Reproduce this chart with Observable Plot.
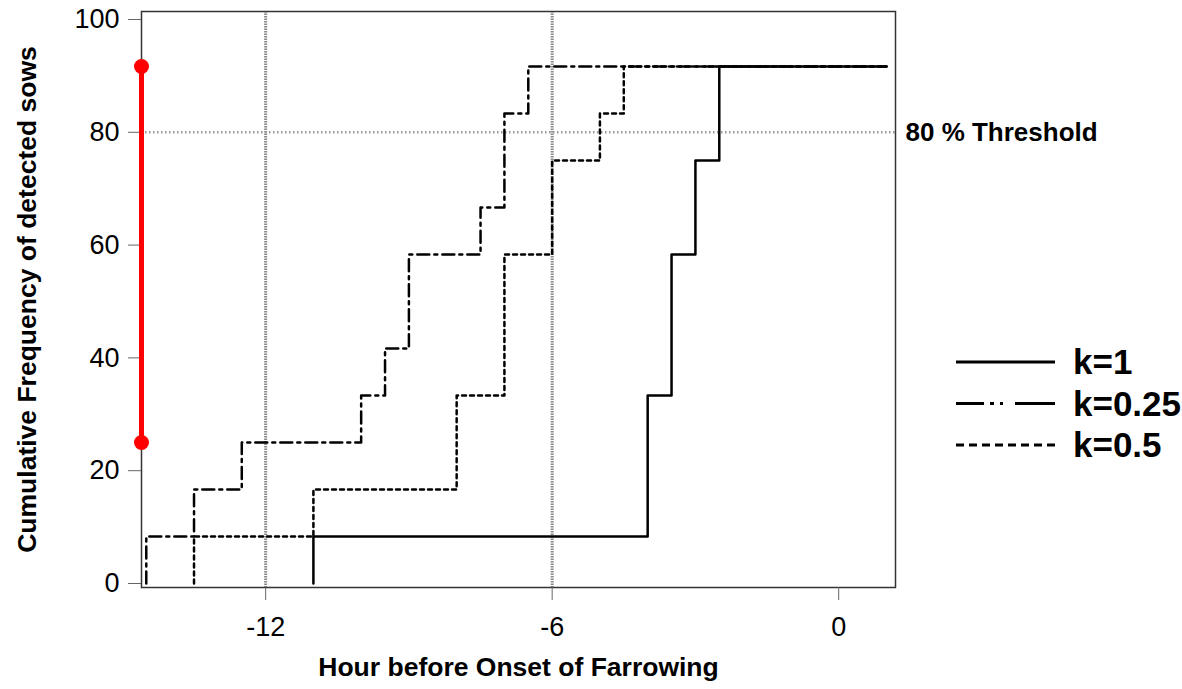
<!DOCTYPE html>
<html>
<head>
<meta charset="utf-8">
<script src="https://cdn.jsdelivr.net/npm/d3@7"></script>
<script src="https://cdn.jsdelivr.net/npm/@observablehq/plot@0.6"></script>
<style>
  html, body { margin: 0; padding: 0; background: #fff; }
  #chart { width: 1182px; height: 689px; }
</style>
</head>
<body>
<div id="chart"></div>
<script>
// ---- data ----
const seriesNames = ["k=1", "k=0.25", "k=0.5"];
const k1Hours   = [-11, -11, -4, -3.5, -3, -2.5, 1.0];
const k1Freq    = [0, 8.33, 33.33, 58.33, 75, 91.67, 91.67];
const k025Hours = [-14.5, -14.5, -13.5, -12.5, -10, -9.5, -9, -7.5, -7, -6.5, 1.0];
const k025Freq  = [0, 8.33, 16.67, 25, 33.33, 41.67, 58.33, 66.67, 83.33, 91.67, 91.67];
const k05Hours  = [-13.5, -13.5, -11, -8, -7, -6, -5, -4.5, 1.0];
const k05Freq   = [0, 8.33, 16.67, 33.33, 58.33, 75, 83.33, 91.67, 91.67];
const xTicks = [-12, -6, 0];
const yTicks = [0, 20, 40, 60, 80, 100];
const refHours = [-12, -6];
const threshold = [80];
const rangeBar = [25, 91.67];
const xDomain = [-14.6, 1.19];
const yDomain = [-0.71, 101.42];

const toRows = (xs, ys) => xs.map((x, i) => ({x, y: ys[i]}));
const k1 = toRows(k1Hours, k1Freq);
const k025 = toRows(k025Hours, k025Freq);
const k05 = toRows(k05Hours, k05Freq);

const font = "Liberation Sans, Arial, Helvetica, sans-serif";

const chart = Plot.plot({
  width: 1182,
  height: 689,
  marginLeft: 141,
  marginRight: 287,
  marginTop: 11,
  marginBottom: 102,
  style: {fontFamily: font, background: "#fff", overflow: "visible"},
  x: {domain: xDomain},
  y: {domain: yDomain},
  marks: [
    Plot.ruleX(refHours, {stroke: "#888", strokeWidth: 3, strokeDasharray: "1.5,1"}),
    Plot.ruleY(threshold, {stroke: "#999", strokeWidth: 2.5, strokeDasharray: "1.5,2.5"}),
    Plot.line(k1, {x: "x", y: "y", curve: "step-after", stroke: "#000", strokeWidth: 2.5}),
    Plot.line(k025, {x: "x", y: "y", curve: "step-after", stroke: "#000", strokeWidth: 2.5, strokeDasharray: "12,5,3,5"}),
    Plot.line(k05, {x: "x", y: "y", curve: "step-after", stroke: "#000", strokeWidth: 2.5, strokeDasharray: "4,4"}),
    Plot.frame({stroke: "#333", strokeWidth: 1.5}),
    Plot.axisX(xTicks, {tickSize: 13, tickPadding: 16, fontSize: 27, stroke: "#666", fill: "#000", label: null, tickFormat: d => String(d)}),
    Plot.axisY(yTicks, {tickSize: 13, tickPadding: 9, fontSize: 27, stroke: "#666", fill: "#000", label: null, tickFormat: d => String(d)}),
    Plot.ruleX([xDomain[0]], {y1: rangeBar[0], y2: rangeBar[1], stroke: "#ff0000", strokeWidth: 5}),
    Plot.dot(rangeBar, {x: () => xDomain[0], y: d => d, r: 7.5, fill: "#ff0000", stroke: "none"}),
    Plot.text(threshold, {y: d => d, frameAnchor: "right", text: () => "80 % Threshold", textAnchor: "start", dx: 10, fontSize: 26, fontWeight: "bold", fill: "#000"}),
    Plot.text(["Hour before Onset of Farrowing"], {frameAnchor: "bottom", text: d => d, dy: 88, fontSize: 26.5, fontWeight: "bold", fill: "#000", textAnchor: "middle"}),
    Plot.text(["Cumulative Frequency of detected sows"], {frameAnchor: "left", text: d => d, dx: -114, rotate: -90, fontSize: 26.5, fontWeight: "bold", fill: "#000", textAnchor: "middle"})
  ]
});

document.getElementById("chart").appendChild(chart);

// legend (right of the plot)
const svg = d3.select(chart);
const legendDash = [null, "28,6,4,6,3,12,42", "8,5"];
const lg = svg.append("g").attr("font-family", font).attr("text-anchor", "start");
seriesNames.forEach((name, i) => {
  const y = 362 + i * 41.5;
  lg.append("line")
    .attr("x1", 956).attr("x2", 1055).attr("y1", y).attr("y2", y)
    .attr("stroke", "#000").attr("stroke-width", 3)
    .attr("stroke-dasharray", legendDash[i]);
  lg.append("text")
    .attr("x", 1073).attr("y", y).attr("dy", "0.35em")
    .attr("text-anchor", "start")
    .attr("font-size", 35).attr("font-weight", "bold")
    .text(name);
});
</script>
</body>
</html>
